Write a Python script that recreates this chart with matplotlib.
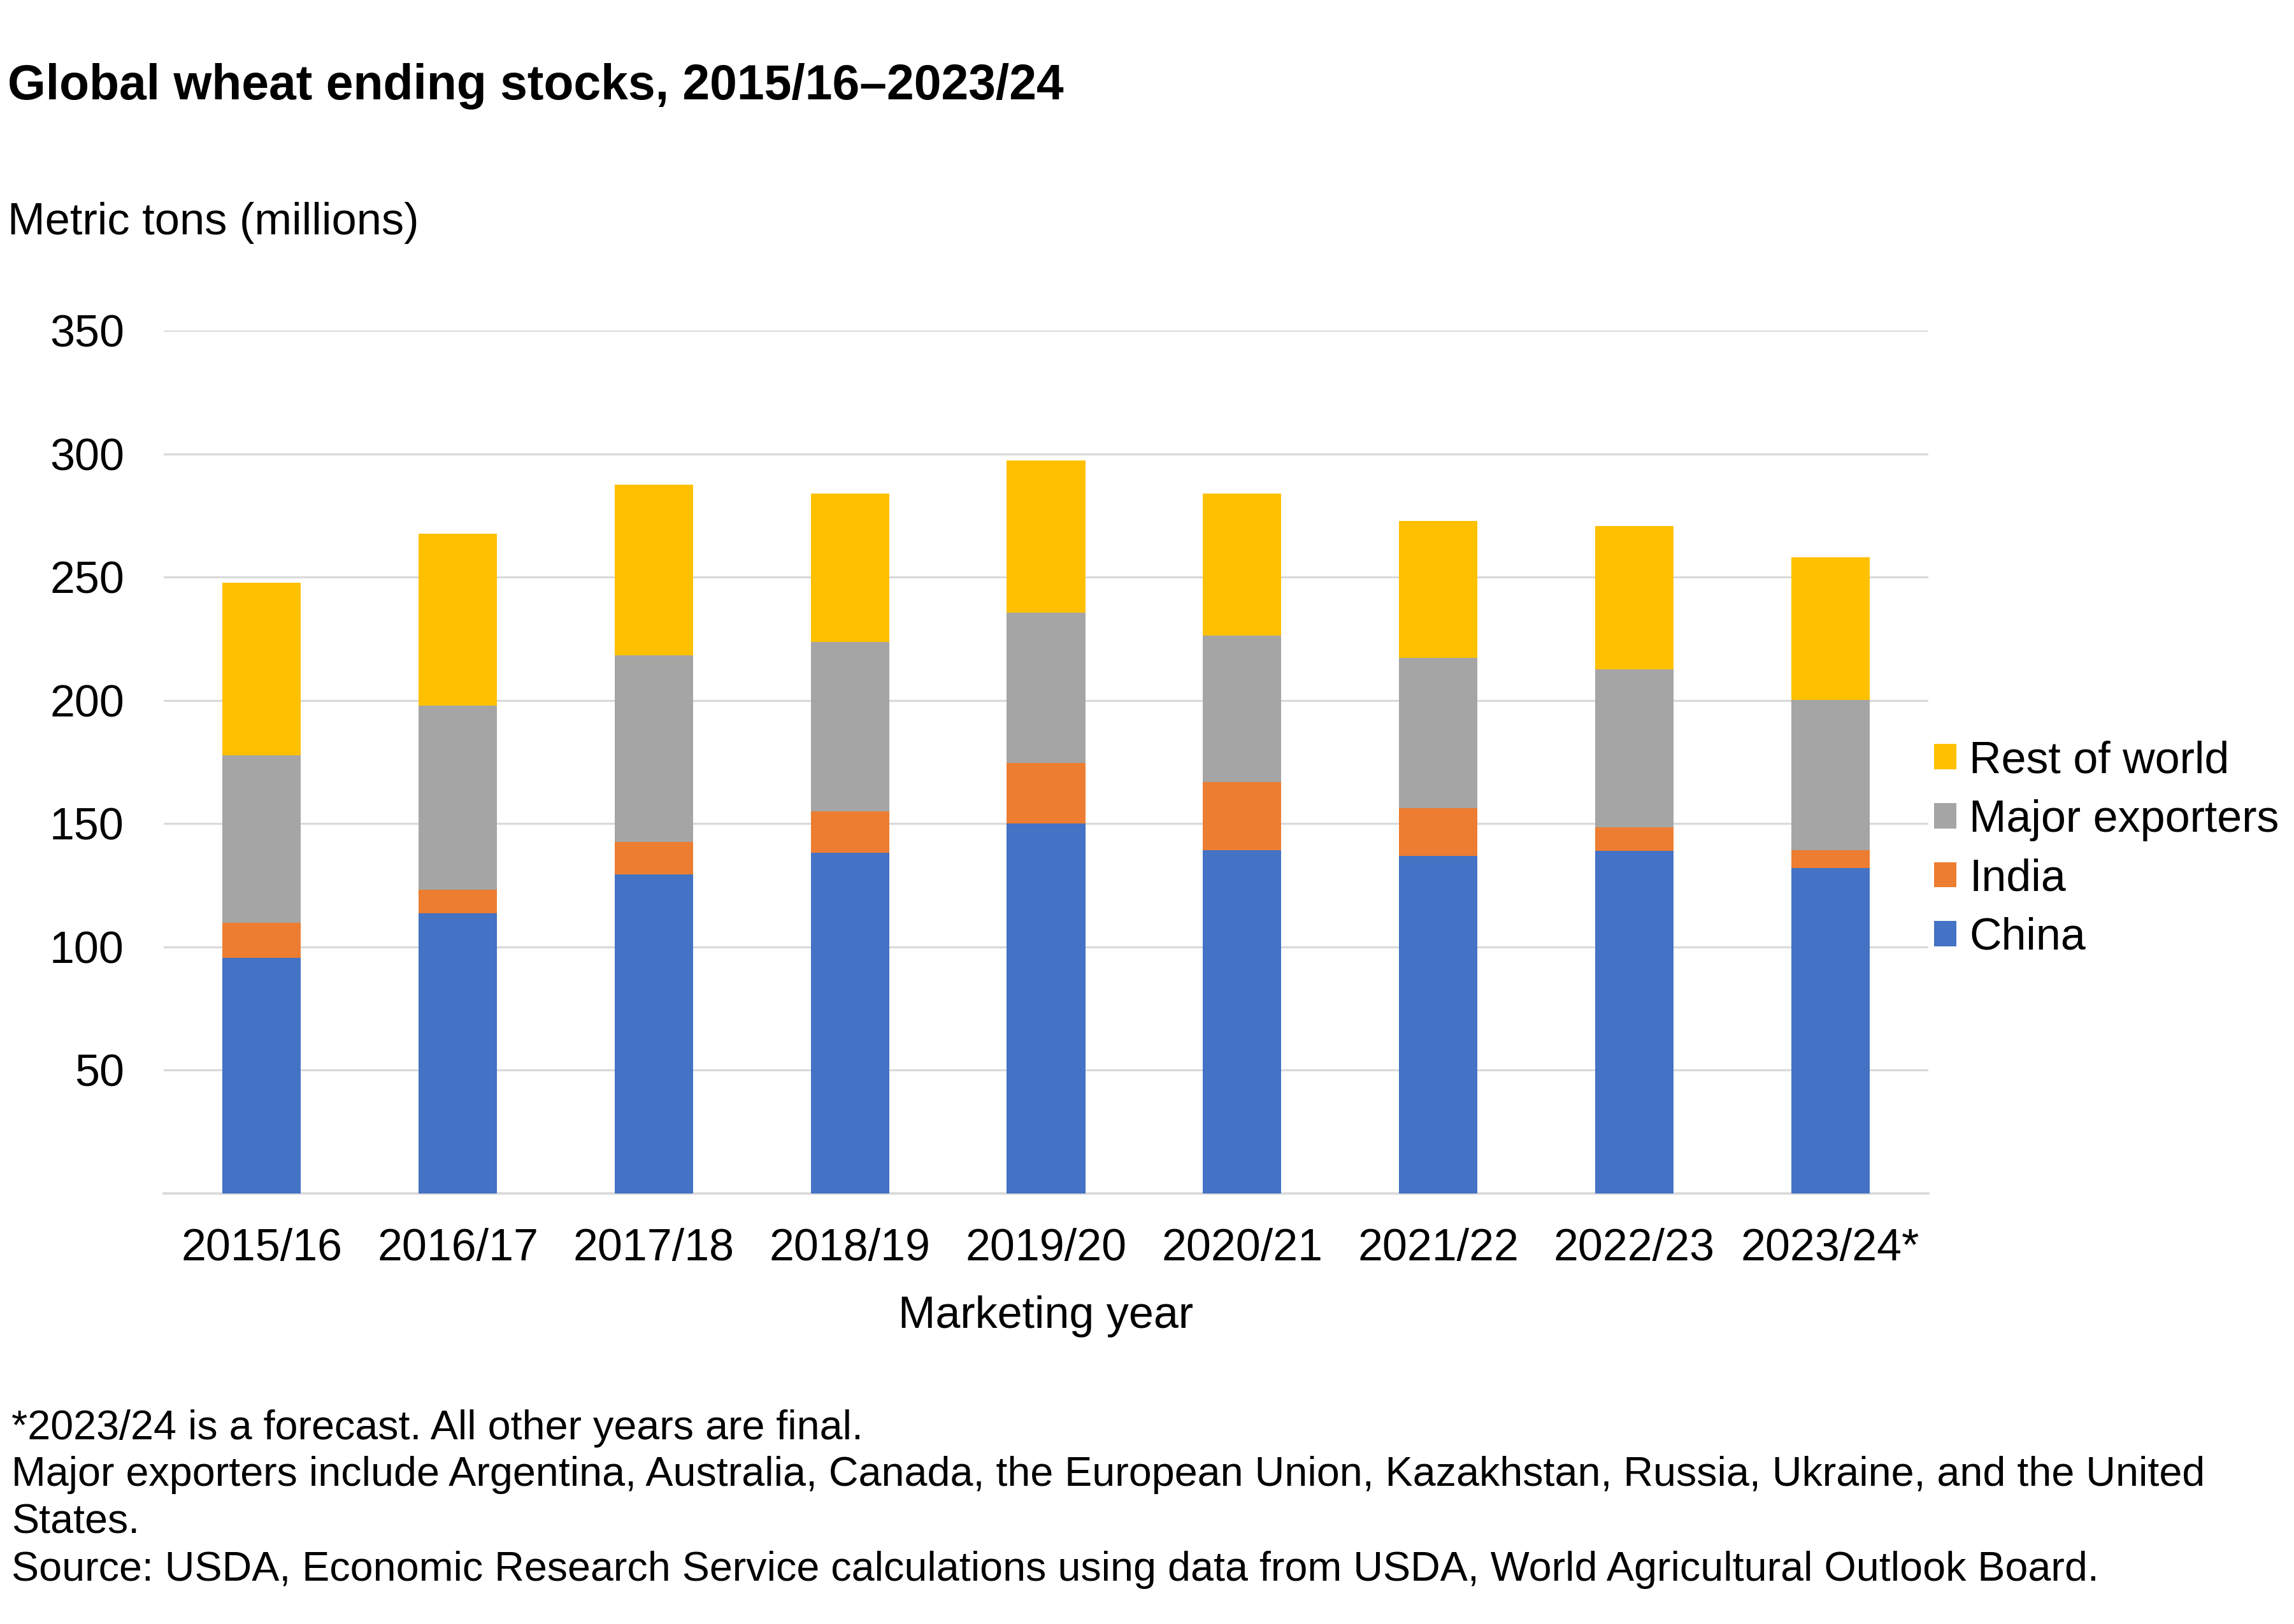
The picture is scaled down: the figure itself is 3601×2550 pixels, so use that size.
import matplotlib
matplotlib.use("Agg")
import matplotlib.pyplot as plt
import numpy as np

plt.rcParams['font.family'] = ['Liberation Sans', 'DejaVu Sans']

years = ["2015/16", "2016/17", "2017/18", "2018/19", "2019/20",
         "2020/21", "2021/22", "2022/23", "2023/24*"]
china = [95.5, 113.6, 129.5, 138.1, 150.0, 139.1, 136.8, 138.9, 132.1]
india = [14.4, 9.7, 13.1, 17.0, 24.5, 27.7, 19.6, 9.5, 7.0]
major_exporters = [67.8, 74.6, 75.6, 68.5, 61.2, 59.4, 60.8, 64.1, 61.2]
rest_of_world = [70.1, 69.8, 69.3, 60.4, 61.6, 57.6, 55.5, 58.1, 57.8]
series_names = ["China", "India", "Major exporters", "Rest of world"]
series_colors = ["#4472C4", "#ED7D31", "#A5A5A5", "#FFC000"]
yticks = [50, 100, 150, 200, 250, 300, 350]

title = "Global wheat ending stocks, 2015/16\u20132023/24"
ylabel = "Metric tons (millions)"
xlabel = "Marketing year"
notes = [
    "*2023/24 is a forecast. All other years are final.",
    "Major exporters include Argentina, Australia, Canada, the European Union, Kazakhstan, Russia, Ukraine, and the United",
    "States.",
    "Source: USDA, Economic Research Service calculations using data from USDA, World Agricultural Outlook Board.",
]

W, H = 3601, 2550
fig = plt.figure(figsize=(W / 300, H / 300), dpi=300)
ax = fig.add_axes([257 / W, 1 - 1874 / H, (3027 - 257) / W, (1874 - 519) / H])

x = np.arange(len(years))
bottom = np.zeros(len(years))
handles = []
for vals, name, col in zip([china, india, major_exporters, rest_of_world], series_names, series_colors):
    b = ax.bar(x, vals, 0.4, bottom=bottom, color=col, label=name, zorder=3)
    handles.append(b)
    bottom += np.array(vals)

ax.set_xlim(-0.5, len(years) - 0.5)
ax.set_ylim(0, 350)
ax.set_yticks(yticks)
ax.set_yticklabels([str(t) for t in yticks])
ax.set_xticks(x)
ax.set_xticklabels(years)
ax.tick_params(axis='y', length=0, pad=14.9, labelsize=16.8)
ax.tick_params(axis='x', length=0, pad=13, labelsize=16.8)
ax.grid(axis='y', color='#D9D9D9', linewidth=0.75, zorder=0)
for s in ['top', 'right', 'left']:
    ax.spines[s].set_visible(False)
ax.spines['bottom'].set_color('#D9D9D9')
ax.spines['bottom'].set_linewidth(0.9)
ax.set_xlabel(xlabel, fontsize=16.8, labelpad=9.5)

leg = ax.legend(handles[::-1], series_names[::-1], loc='center left',
                bbox_to_anchor=(3036 / W, 1 - 1334 / H), bbox_transform=fig.transFigure,
                frameon=False, fontsize=16.8, handlelength=0.5, handleheight=0.5,
                handletextpad=0.29, labelspacing=0.38, borderpad=0, borderaxespad=0)

fig.text(12 / W, 1 - 156 / H, title, fontsize=18.45, fontweight='bold', va='baseline', ha='left')
fig.text(12 / W, 1 - 368 / H, ylabel, fontsize=16.9, va='baseline', ha='left')
for yb, line in zip([2260, 2333, 2407, 2482], notes):
    fig.text(18 / W, 1 - yb / H, line, fontsize=15.5, va='baseline', ha='left')

fig.savefig("out.png", dpi=300)
